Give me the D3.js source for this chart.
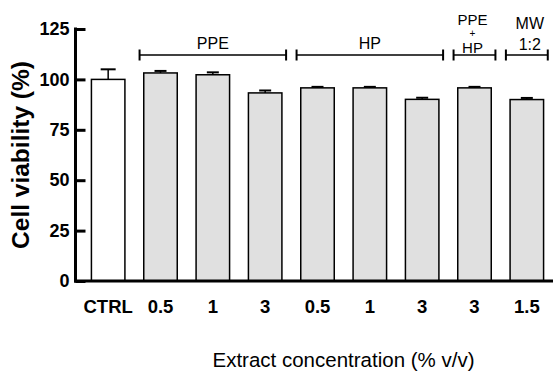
<!DOCTYPE html>
<html>
<head>
<meta charset="utf-8">
<script src="https://cdn.jsdelivr.net/npm/d3@7"></script>
<style>
  html, body { margin: 0; padding: 0; background: #fff; }
  svg { display: block; font-family: "Liberation Sans", Arial, sans-serif; }
</style>
</head>
<body>
<svg id="chart" width="556" height="372"></svg>
<script>
// ---- data ----
const categories = ["CTRL", "0.5", "1", "3", "0.5", "1", "3", "3", "1.5"];
const viability = [100, 103.2, 102.3, 93.3, 95.8, 95.8, 90.1, 95.8, 90.0];
const sem = [5.0, 1.0, 1.2, 1.2, 0.5, 0.5, 0.8, 0.5, 0.8];
const yTicks = [0, 25, 50, 75, 100, 125];
const groupNames = [["PPE"], ["HP"], ["PPE", "+", "HP"], ["MW", "1:2"]];
const groupStart = [1, 4, 7, 8];
const groupEnd = [3, 6, 7, 8];

// ---- layout ----
const svg = d3.select("#chart");
const axisX = 75.5, axisY = 281;

const x = d3.scaleBand()
  .domain(d3.range(categories.length))
  .range([82, 553])
  .paddingInner(0.36)
  .paddingOuter(0.18);

const y = d3.scaleLinear().domain([0, 125]).range([axisY, 29]);

// bars
svg.append("g").selectAll("rect")
  .data(viability)
  .join("rect")
  .attr("x", (d, i) => x(i))
  .attr("y", d => y(d))
  .attr("width", x.bandwidth())
  .attr("height", d => y(0) - y(d))
  .attr("fill", (d, i) => i === 0 ? "#ffffff" : "#e0e0e0")
  .attr("stroke", "#000")
  .attr("stroke-width", 1.5);

// error bars (upper only)
const eb = svg.append("g").attr("stroke", "#000").attr("stroke-width", 1.5);
viability.forEach((v, i) => {
  const cx = x(i) + x.bandwidth() / 2;
  const capW = i === 0 ? 7.5 : 6;
  eb.append("line").attr("x1", cx).attr("x2", cx).attr("y1", y(v)).attr("y2", y(v + sem[i]));
  eb.append("line").attr("x1", cx - capW).attr("x2", cx + capW)
    .attr("y1", y(v + sem[i])).attr("y2", y(v + sem[i])).attr("stroke-width", 2);
});

// y axis
const yAxis = svg.append("g")
  .attr("transform", `translate(${axisX},0)`)
  .call(d3.axisLeft(y).tickValues(yTicks).tickSize(-10).tickSizeOuter(0).tickPadding(6));
yAxis.select(".domain").attr("stroke-width", 3).attr("d", `M0,${y(125) - 1.5}V${axisY + 1.5}`);
yAxis.selectAll(".tick line").attr("stroke-width", 3);
yAxis.selectAll(".tick text")
  .attr("font-size", 18).attr("font-weight", "bold")
  .attr("font-family", "Liberation Sans, Arial, sans-serif").attr("fill", "#000");

// x axis line
svg.append("line")
  .attr("x1", axisX - 1.5).attr("x2", 553)
  .attr("y1", axisY).attr("y2", axisY)
  .attr("stroke", "#000").attr("stroke-width", 3);

// x tick labels
const xAxis = svg.append("g")
  .attr("transform", `translate(0,${axisY})`)
  .call(d3.axisBottom(x).tickSize(0).tickPadding(0).tickFormat(i => categories[i]));
xAxis.select(".domain").remove();
xAxis.selectAll(".tick text")
  .attr("dy", null).attr("y", 32)
  .attr("font-size", 18.5).attr("font-weight", "bold")
  .attr("font-family", "Liberation Sans, Arial, sans-serif").attr("fill", "#000");

// group brackets
const step = x.step();
const bracketY = 55;
const br = svg.append("g").attr("stroke", "#000").attr("stroke-width", 1.5);
groupNames.forEach((names, g) => {
  const x0 = x(groupStart[g]) + x.bandwidth() / 2 - step * 0.4;
  const x1 = x(groupEnd[g]) + x.bandwidth() / 2 + step * 0.4;
  br.append("line").attr("x1", x0).attr("x2", x1).attr("y1", bracketY).attr("y2", bracketY);
  br.append("line").attr("x1", x0).attr("x2", x0).attr("y1", bracketY - 5.5).attr("y2", bracketY + 5.5).attr("stroke-width", 2);
  br.append("line").attr("x1", x1).attr("x2", x1).attr("y1", bracketY - 5.5).attr("y2", bracketY + 5.5).attr("stroke-width", 2);
  const cx = (x0 + x1) / 2 + (names.length === 2 ? 3 : names.length === 3 ? -2 : 0);
  let baselines, sizes;
  if (names.length === 1) { baselines = [49]; sizes = [16]; }
  else if (names.length === 2) { baselines = [29, 50]; sizes = [16, 16]; }
  else { baselines = [24.5, 37, 52.8]; sizes = [15, 10, 15]; }
  const t = svg.append("text")
    .attr("text-anchor", "middle")
    .attr("fill", "#000");
  names.forEach((s, k) => {
    t.append("tspan")
      .attr("x", cx).attr("y", baselines[k])
      .attr("font-size", sizes[k])
      .text(s);
  });
});

// axis titles
svg.append("text")
  .attr("transform", "translate(29,155) rotate(-90)")
  .attr("text-anchor", "middle")
  .attr("font-size", 24.5).attr("font-weight", "bold")
  .attr("fill", "#000")
  .text("Cell viability (%)");

svg.append("text")
  .attr("x", 343.5).attr("y", 367)
  .attr("text-anchor", "middle")
  .attr("font-size", 20.5)
  .attr("fill", "#000")
  .text("Extract concentration (% v/v)");
</script>
</body>
</html>
